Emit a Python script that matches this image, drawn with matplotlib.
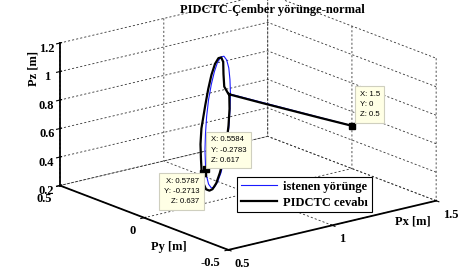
import matplotlib
matplotlib.use("Agg")
import matplotlib.pyplot as plt
import matplotlib.transforms as mtransforms
from mpl_toolkits.mplot3d import proj3d

# ---------------- data ----------------
title = "PIDCTC-Çember yörünge-normal"
legend_labels = ["istenen yörünge", "PIDCTC cevabı"]

# desired trajectory: start point, straight segment, then the circle
des_x = [1.5, 1.106, 1.097, 1.072, 1.031, 0.978, 0.917, 0.850, 0.784, 0.723, 0.670, 0.629, 0.604,
         0.595, 0.604, 0.629, 0.670, 0.723, 0.784, 0.850, 0.917, 0.978, 1.031, 1.072, 1.097, 1.106]
des_y = [0.0, 0.235, 0.227, 0.203, 0.165, 0.116, 0.058, -0.004, -0.067, -0.124, -0.173, -0.212, -0.236,
         -0.244, -0.236, -0.212, -0.173, -0.124, -0.067, -0.004, 0.058, 0.116, 0.165, 0.203, 0.227, 0.235]
des_z = [0.5, 0.752, 0.861, 0.962, 1.049, 1.116, 1.158, 1.172, 1.158, 1.116, 1.049, 0.962, 0.861,
         0.752, 0.643, 0.542, 0.455, 0.388, 0.346, 0.332, 0.346, 0.388, 0.455, 0.542, 0.643, 0.752]

# robot response (PIDCTC)
act_x = [1.5, 1.40, 1.30, 1.20, 1.069, 0.982, 0.967, 0.960, 0.923, 0.865, 0.799, 0.726, 0.661, 0.602,
         0.522, 0.507, 0.515, 0.529, 0.566, 0.617, 0.683, 0.748, 0.821, 0.894, 0.967, 1.026, 1.069,
         1.091, 1.084]
act_y = [0.0, 0.058, 0.117, 0.176, 0.201, 0.119, 0.105, 0.098, 0.064, 0.009, -0.052, -0.121, -0.182,
         -0.237, -0.313, -0.326, -0.319, -0.306, -0.271, -0.223, -0.162, -0.100, -0.032, 0.037, 0.105,
         0.160, 0.201, 0.222, 0.215]
act_z = [0.5, 0.562, 0.625, 0.688, 0.78, 0.90, 1.00, 1.09, 1.15, 1.19, 1.20, 1.18, 1.13, 1.06,
         0.96, 0.86, 0.75, 0.64, 0.54, 0.46, 0.40, 0.36, 0.345, 0.36, 0.40, 0.47, 0.56, 0.66, 0.77]

# data tips
tip_x = [1.5, 0.5584, 0.5787]
tip_y = [0.0, -0.2783, -0.2713]
tip_z = [0.5, 0.617, 0.637]

x_ticks = [0.5, 1.0, 1.5]
x_ticklabels = ["0.5", "1", "1.5"]
y_ticks = [-0.5, 0.0, 0.5]
y_ticklabels = ["-0.5", "0", "0.5"]
z_ticks = [0.2, 0.4, 0.6, 0.8, 1.0, 1.2]
z_ticklabels = ["0.2", "0.4", "0.6", "0.8", "1", "1.2"]

# ---------------- style ----------------
plt.rcParams['font.family'] = ['Liberation Serif', 'DejaVu Serif']
plt.rcParams['grid.linestyle'] = (0, (2.5, 2.5))
plt.rcParams['grid.linewidth'] = 0.6
plt.rcParams['grid.color'] = '#333333'

W, H = 459, 272
fig = plt.figure(figsize=(W / 100, H / 100), dpi=100)
ax = fig.add_axes([-0.02 + 19 / W, -0.06 + 10 / H, 1.02, 1.12], projection='3d')
ax.set_proj_type('ortho')
ax.view_init(elev=17.5, azim=-128.2)
ax.set_box_aspect((1, 1.03, 0.565), zoom=1.3)

ax.plot(des_x, des_y, des_z, color='#1a1aff', lw=0.8, label=legend_labels[0])
ax.plot(act_x, act_y, act_z, color='black', lw=1.6, label=legend_labels[1])
ax.plot(tip_x, tip_y, tip_z, 's', color='black', ms=4.3, ls='none')

ax.set_xlim(0.5, 1.5)
ax.set_ylim(-0.5, 0.5)
ax.set_zlim(0.2, 1.2)
ax.set_xticks(x_ticks, x_ticklabels)
ax.set_yticks(y_ticks, y_ticklabels)
ax.set_zticks(z_ticks, z_ticklabels)
for a in (ax.xaxis, ax.yaxis, ax.zaxis):
    a.pane.fill = False
    a.pane.set_edgecolor((1, 1, 1, 0))
    a.line.set_linewidth(1.3)
    a._axinfo['grid'].update(linestyle=(0, (2.5, 2.5)), linewidth=0.6, color='#333333')
ax.tick_params(labelsize=9)
ax.xaxis.set_tick_params(pad=-3.6)
ax.yaxis.set_tick_params(pad=-3.6)
ax.zaxis.set_tick_params(pad=-4)
for lab in ax.get_xticklabels() + ax.get_yticklabels() + ax.get_zticklabels():
    lab.set_fontweight('bold')
for lab in ax.get_xticklabels():
    lab.set_horizontalalignment('left')
    lab.set_transform(mtransforms.offset_copy(ax.transData, fig=fig, x=-5, y=0, units='dots'))
for lab in ax.get_yticklabels():
    lab.set_horizontalalignment('right')
    lab.set_transform(mtransforms.offset_copy(ax.transData, fig=fig, x=-4, y=0, units='dots'))

fig.text(33 / W, 1 - 68 / H, 'Pz [m]', fontsize=9, fontweight='bold', ha='center', va='center',
         rotation=90)
fig.text(413 / W, 1 - 222 / H, 'Px [m]', fontsize=9, fontweight='bold', ha='center', va='center')
fig.text(169 / W, 1 - 247 / H, 'Py [m]', fontsize=9, fontweight='bold', ha='center', va='center')
fig.text(272 / W, 1 - 10 / H, title, fontsize=9, fontweight='bold', ha='center', va='center')

leg = ax.legend(loc='upper left', bbox_to_anchor=(237 / W, 1 - 177 / H), bbox_transform=fig.transFigure,
                borderaxespad=0, fancybox=False, edgecolor='black', framealpha=1, borderpad=0.3,
                labelspacing=0.3, handlelength=2.9, handletextpad=0.5,
                prop={'family': 'Liberation Serif', 'weight': 'bold', 'size': 9})
leg.get_frame().set_linewidth(0.8)

# data tips
proj = ax.get_proj()
tip_offsets = [(5.5, 5.5, 'left', 'bottom'), (5.5, 7.0, 'left', 'bottom'), (-4.8, -6.3, 'right', 'top')]
for (px, py, pz), (ox, oy, ha, va) in zip(zip(tip_x, tip_y, tip_z), tip_offsets):
    x2, y2, _ = proj3d.proj_transform(px, py, pz, proj)
    txt = "X: %s\nY: %s\nZ: %s" % (('%g' % px), ('%g' % py), ('%g' % pz))
    ax.annotate(txt, xy=(x2, y2), xycoords='data', xytext=(ox, oy), textcoords='offset points',
                ha=ha, va=va, fontsize=5.6, family='Liberation Sans', linespacing=1.62,
                bbox=dict(boxstyle='square,pad=0.6', fc='#ffffe5', ec='#cfcfbf', lw=0.8))

fig.savefig('out.png', dpi=100)
